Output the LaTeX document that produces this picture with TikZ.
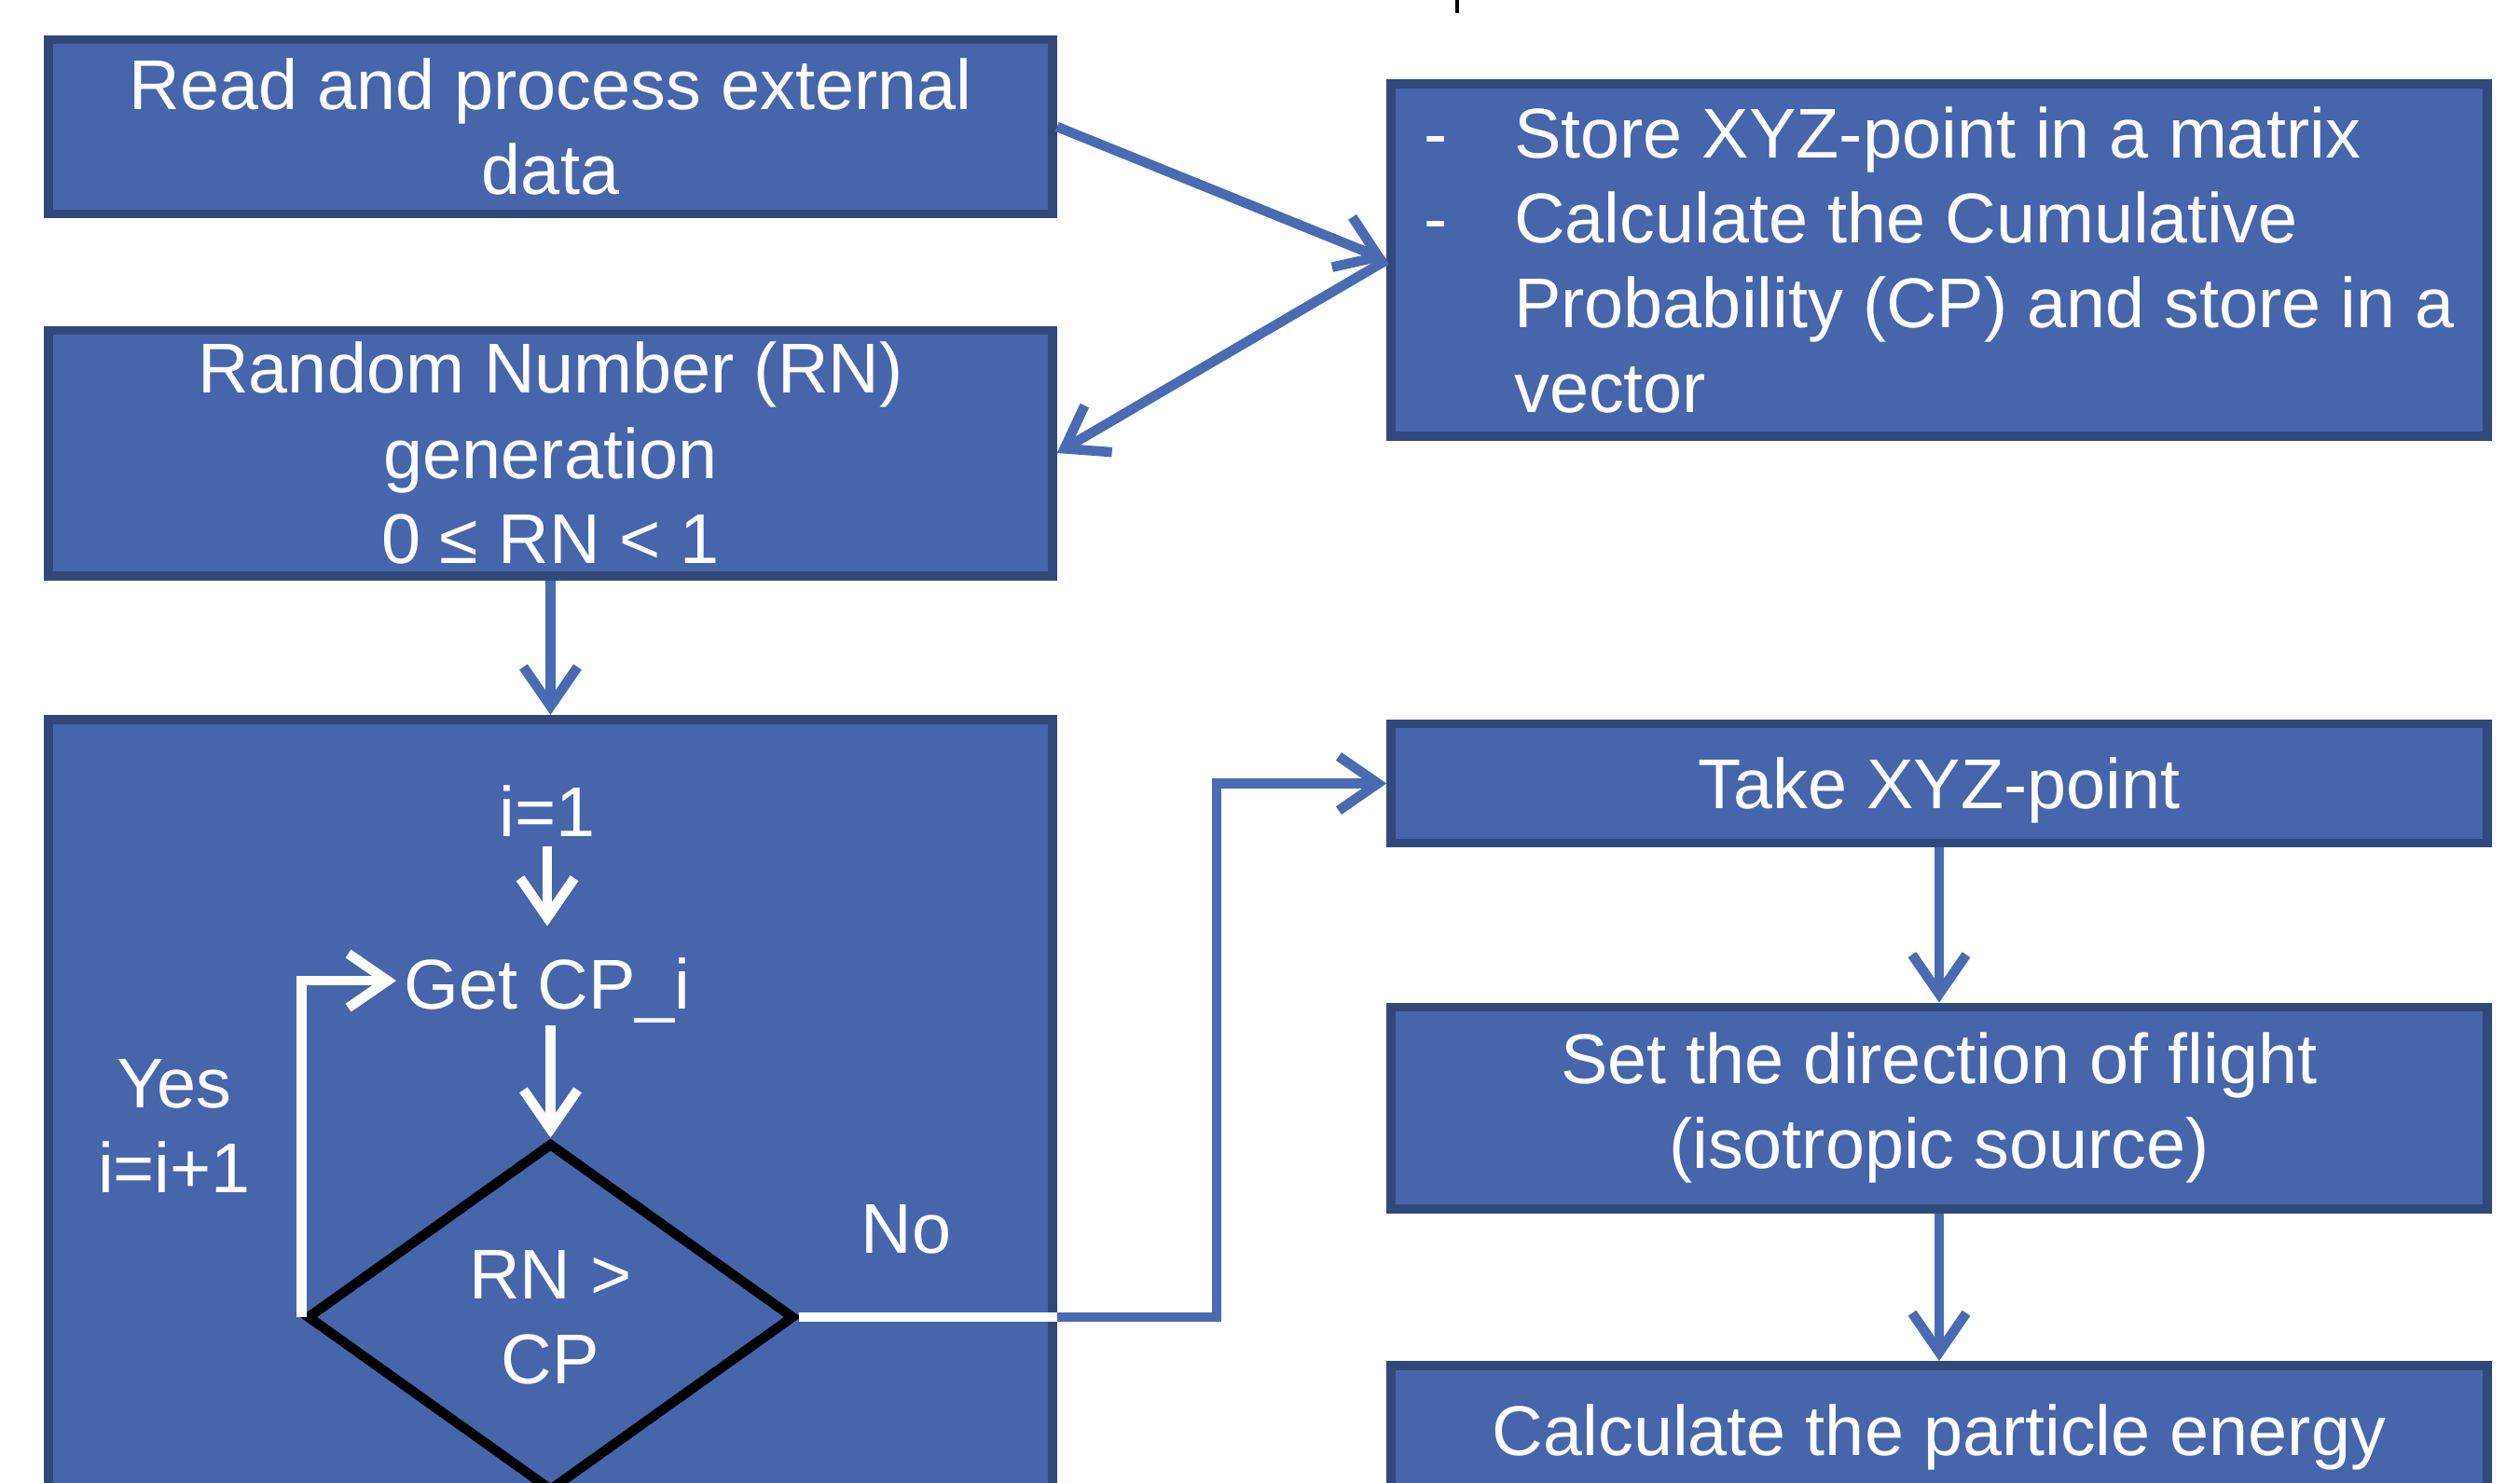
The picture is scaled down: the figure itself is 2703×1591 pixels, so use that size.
\documentclass[tikz,border=0pt]{standalone}
\usepackage{fontspec}
\setmainfont{Liberation Sans}
\usetikzlibrary{shapes.geometric,arrows.meta}
\definecolor{boxfill}{RGB}{70,101,170}
\definecolor{boxline}{RGB}{49,72,122}
\definecolor{arrblue}{RGB}{74,107,178}
\begin{document}
\begin{tikzpicture}[x=0.01cm,y=-0.01cm,
  every node/.style={font=\fontsize{21.5}{25.9}\selectfont, text=white},
  box/.style={draw=boxline, line width=2.8pt, fill=boxfill, rectangle, inner sep=0pt, align=center},
  barr/.style={draw=arrblue, line width=3pt, -{Straight Barb[length=0.42cm,width=0.58cm]}},
  warr/.style={draw=white, line width=3pt, -{Straight Barb[length=0.42cm,width=0.58cm]}},
]
\useasboundingbox (0,0) rectangle (2703,1591);
\fill[white] (0,0) rectangle (2703,1591);
\fill[black] (1561,0) rectangle (1565,14);

% left column
\node[box, minimum width=10.76cm, minimum height=1.87cm] (read) at (590.5,136) {Read and process external\\data};
\node[box, minimum width=10.76cm, minimum height=2.63cm] (rng) at (590.5,486) {Random Number (RN)\\generation\\0 ≤ RN < 1};
\node[box, minimum width=10.76cm, minimum height=9.28cm] (loopbox) at (590.5,1236) {};

% right column
\node[box, minimum width=11.75cm, minimum height=3.77cm, align=left] (store) at (2080,279)
  {\makebox[0.97cm][l]{-}Store XYZ-point in a matrix\\
   \makebox[0.97cm][l]{-}Calculate the Cumulative\\
   \hspace*{0.97cm}Probability (CP) and store in a\\
   \hspace*{0.97cm}vector};
\node[box, minimum width=11.75cm, minimum height=1.28cm, text height=0.54cm, text depth=0cm] (take) at (2080,840.5) {Take XYZ-point};
\node[box, minimum width=11.75cm, minimum height=2.16cm] (dir) at (2080,1188.5) {Set the direction of flight\\(isotropic source)};
\node[box, minimum width=11.75cm, minimum height=2.30cm] (energy) at (2080,1580) {Calculate the particle energy\\\mbox{}};

% inner loop
\node[anchor=base, inner sep=0.1cm] (i1) at (587,897) {i=1};
\node[anchor=base, inner sep=0.08cm] (getcp) at (587,1082) {Get CP\_i};
\node[draw=black, line width=3pt, diamond, minimum width=5.23cm, minimum height=3.74cm,
      inner sep=0pt, aspect=1.4, align=center] (dia) at (590.5,1413) {RN >\\CP};
\node[align=center] (yes) at (187,1208) {Yes\\i=i+1};
\node (no) at (972,1319) {No};

% connectors
\draw[barr] (read.east) -- (store.west);
\draw[barr] (store.west) -- (rng.east);
\draw[barr] (rng.south) -- (loopbox.north);
\draw[warr] (i1.south) -- ([yshift=0.25cm]getcp.north);
\draw[warr] ([yshift=-0.18cm]dia.north |- getcp.base) -- (dia.north);
\draw[warr] (dia.west) |- ([yshift=0.1cm]getcp.west);
\coordinate (nobreak) at (dia.east -| loopbox.east);
\coordinate (elbow) at (1305,1413);
\draw[white, line width=3pt] (dia.east) -- (nobreak);
\draw[barr] (nobreak) -- (elbow) |- (take.west);
\draw[barr] (take.south) -- (take.south |- dir.north);
\draw[barr] (dir.south) -- (dir.south |- energy.north);
\end{tikzpicture}
\end{document}
